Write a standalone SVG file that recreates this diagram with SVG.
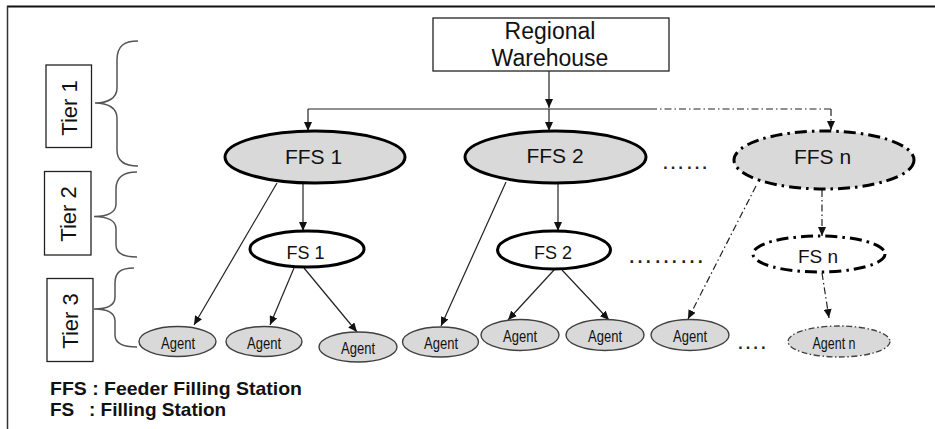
<svg xmlns="http://www.w3.org/2000/svg" width="935" height="429" viewBox="0 0 935 429">
<style>
  text{font-family:"Liberation Sans",Arial,sans-serif;fill:#111;}
  .big{font-size:21px;text-anchor:middle;}
  .mid{font-size:18px;text-anchor:middle;}
  .ag{font-size:16px;text-anchor:middle;}
  .tier{font-size:22px;text-anchor:middle;}
  .leg{font-size:19px;font-weight:bold;}
  .ffs{fill:#d9d9d9;stroke:#000;stroke-width:3;}
  .fs{fill:#fff;stroke:#000;stroke-width:3;}
  .agent{fill:#d9d9d9;stroke:#404040;stroke-width:1.4;}
  .dd3{stroke-dasharray:12 5 2.5 5;}
  .ddthin{stroke-dasharray:6 2.5 1.5 2.5;}
  .con{fill:none;stroke:#222;stroke-width:1.2;}
  .dd{stroke-dasharray:7 3 1.5 3;}
  .brace{fill:none;stroke:#555;stroke-width:1.5;}
  .tbox{fill:#fff;stroke:#222;stroke-width:1.3;}
  .dots{font-size:24px;fill:#222;}
</style>
<defs>
  <marker id="arr" markerUnits="userSpaceOnUse" markerWidth="9" markerHeight="8" refX="9" refY="4" orient="auto">
    <path d="M0,0 L9,4 L0,8 z" fill="#111"/>
  </marker>
</defs>

<g id="frame">
  <line x1="7" y1="6.5" x2="935" y2="6.5" stroke="#111" stroke-width="2"/>
  <line x1="7.5" y1="6" x2="7.5" y2="429" stroke="#333" stroke-width="1.5"/>
</g>

<g id="tier1">
  <rect class="tbox" x="46" y="65" width="45.5" height="82.5"/>
  <text class="tier" transform="translate(69,108) rotate(-90)" y="8">Tier 1</text>
  <path class="brace" d="M138,41 C124,41 117,46 117,60 L117,88 C117,98 108,103 95,103 C108,103 117,108 117,118 L117,150 C117,161 124,166 138,166"/>
</g>
<g id="tier2">
  <rect class="tbox" x="44.5" y="171.5" width="46.5" height="83.5"/>
  <text class="tier" transform="translate(68,214) rotate(-90)" y="8">Tier 2</text>
  <path class="brace" d="M137,172 C123,172 116,177 116,189 L116,204 C116,212 108,216.5 94,216.5 C108,216.5 116,221 116,229 L116,245 C116,253 123,257 137,257"/>
</g>
<g id="tier3">
  <rect class="tbox" x="47" y="278.5" width="46" height="83"/>
  <text class="tier" transform="translate(70,321) rotate(-90)" y="8">Tier 3</text>
  <path class="brace" d="M134,268 C121,268 115,272 115,283 L115,297 C115,305 107,309 94,309 C107,309 115,313 115,321 L115,335 C115,343 122,347 137,347"/>
</g>

<g id="connectors">
  <path class="con" d="M549,71 V108" marker-end="url(#arr)"/>
  <path class="con" d="M308,109 H650"/>
  <path class="con dd" d="M650,109 H832"/>
  <path class="con" d="M308,109 V131" marker-end="url(#arr)"/>
  <path class="con" d="M549,109 V131" marker-end="url(#arr)"/>
  <path class="con dd" d="M831,109 V130" marker-end="url(#arr)"/>
  <path class="con" d="M303,184 V231" marker-end="url(#arr)"/>
  <path class="con" d="M277,183 L194,325" marker-end="url(#arr)"/>
  <path class="con" d="M294,268 L270,325" marker-end="url(#arr)"/>
  <path class="con" d="M304,268 L357,332" marker-end="url(#arr)"/>
  <path class="con" d="M506,182 L441,326" marker-end="url(#arr)"/>
  <path class="con" d="M558,184 V231" marker-end="url(#arr)"/>
  <path class="con" d="M554,270 L508,320" marker-end="url(#arr)"/>
  <path class="con" d="M562,270 L609,320" marker-end="url(#arr)"/>
  <path class="con dd" d="M756,186 L688,319" marker-end="url(#arr)"/>
  <path class="con dd" d="M822,190 V236" marker-end="url(#arr)"/>
  <path class="con dd" d="M822,273 L829,318" marker-end="url(#arr)"/>
</g>

<g id="warehouse">
  <rect x="433" y="18" width="236" height="53" fill="#fff" stroke="#222" stroke-width="1.3"/>
  <text class="big" x="550" y="39" style="font-size:23px">Regional</text>
  <text class="big" x="550" y="66" style="font-size:23px">Warehouse</text>
</g>

<g id="ffs1">
  <ellipse class="ffs" cx="315" cy="157" rx="90" ry="26"/>
  <text class="big" x="313.5" y="163.5">FFS 1</text>
</g>
<g id="ffs2">
  <ellipse class="ffs" cx="555.5" cy="157" rx="90.5" ry="26"/>
  <text class="big" x="555" y="163">FFS 2</text>
</g>
<g id="ffsn">
  <ellipse class="ffs dd3" cx="824" cy="160" rx="90" ry="29"/>
  <text class="big" x="822.5" y="164">FFS n</text>
</g>

<g id="fs1">
  <ellipse class="fs" cx="307" cy="249" rx="57" ry="18"/>
  <text class="mid" x="305.5" y="259">FS 1</text>
</g>
<g id="fs2">
  <ellipse class="fs" cx="554" cy="250" rx="56.5" ry="19"/>
  <text class="mid" x="553" y="259">FS 2</text>
</g>
<g id="fsn">
  <ellipse class="fs dd3" cx="819" cy="254" rx="66" ry="18"/>
  <text class="mid" x="818" y="263" style="font-size:19px">FS n</text>
</g>

<g id="agent1">
  <ellipse class="agent" cx="177.5" cy="341.5" rx="38.5" ry="15"/>
  <text class="ag" x="178" y="348.5" textLength="34" lengthAdjust="spacingAndGlyphs">Agent</text>
</g>
<g id="agent2">
  <ellipse class="agent" cx="264" cy="341.5" rx="38" ry="15"/>
  <text class="ag" x="264" y="348.5" textLength="34" lengthAdjust="spacingAndGlyphs">Agent</text>
</g>
<g id="agent3">
  <ellipse class="agent" cx="358" cy="347" rx="39" ry="15"/>
  <text class="ag" x="358" y="354" textLength="34" lengthAdjust="spacingAndGlyphs">Agent</text>
</g>
<g id="agent4">
  <ellipse class="agent" cx="440.5" cy="342" rx="38" ry="15"/>
  <text class="ag" x="441" y="349" textLength="34" lengthAdjust="spacingAndGlyphs">Agent</text>
</g>
<g id="agent5">
  <ellipse class="agent" cx="520" cy="335" rx="39" ry="15.5"/>
  <text class="ag" x="520" y="342" textLength="34" lengthAdjust="spacingAndGlyphs">Agent</text>
</g>
<g id="agent6">
  <ellipse class="agent" cx="605" cy="335" rx="39" ry="15.5"/>
  <text class="ag" x="605" y="342" textLength="34" lengthAdjust="spacingAndGlyphs">Agent</text>
</g>
<g id="agent7">
  <ellipse class="agent" cx="690" cy="335" rx="39" ry="15.5"/>
  <text class="ag" x="690" y="342" textLength="34" lengthAdjust="spacingAndGlyphs">Agent</text>
</g>
<g id="agentn">
  <ellipse class="agent ddthin" cx="839" cy="341.5" rx="51" ry="15.5"/>
  <text class="ag" x="834" y="348.5" textLength="43" lengthAdjust="spacingAndGlyphs">Agent n</text>
</g>

<g id="ellipses">
  <text class="dots" x="661" y="169">……</text>
  <text class="dots" x="627" y="263" style="font-size:26px">………</text>
  <text class="dots" x="736" y="349">….</text>
</g>

<g id="legend">
  <text class="leg" x="50" y="395" textLength="252" lengthAdjust="spacingAndGlyphs">FFS : Feeder Filling Station</text>
  <text class="leg" x="50" y="416">FS<tspan x="89">: Filling Station</tspan></text>
</g>
</svg>
